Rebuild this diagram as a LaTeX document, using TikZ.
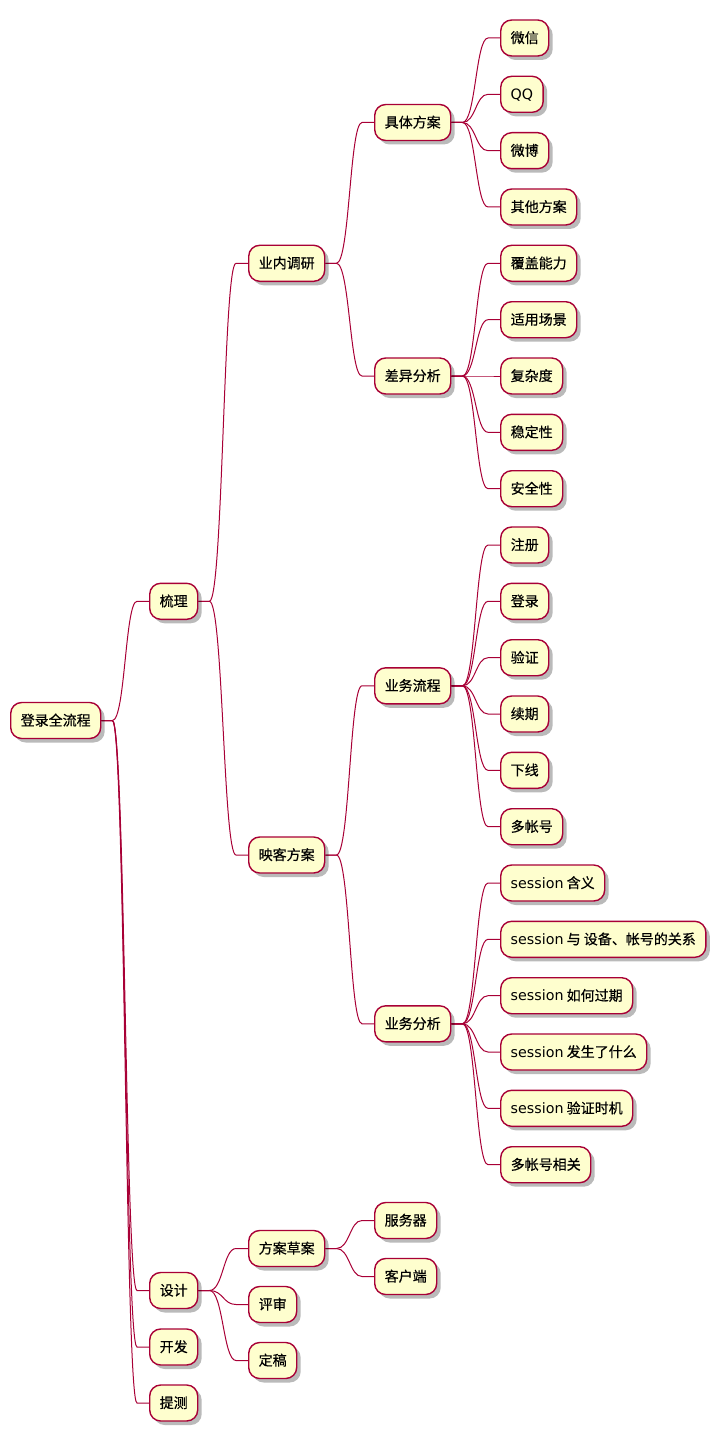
\documentclass[tikz,border=0pt]{standalone}
\usepackage{fontspec}
\setmainfont{Noto Sans CJK SC}[FakeBold=0.5]
\newfontfamily\lat{DejaVu Sans}[Scale=1.02]
\usetikzlibrary{shadows,calc,backgrounds}
\definecolor{nodefill}{HTML}{FEFECE}
\definecolor{plred}{HTML}{A80036}
\tikzset{
  mm/.style={draw=plred, fill=nodefill, line width=1.4pt, rounded corners=11pt,
    minimum height=36pt, inner xsep=10pt, inner ysep=0pt, text height=12pt, text depth=2pt,
    anchor=west, font=\fontsize{14}{16}\selectfont,
    drop shadow={shadow xshift=4pt, shadow yshift=-4pt, fill=black, opacity=0.27}},
  conn/.style={draw=plred, line width=1pt},
}
\newcommand\mmlink[2]{%
  \draw[conn] let \p1=(#1.east), \p2=(#2.west), \p3=($(\p1)!0.5!(\p2)$) in
    (\p1) -- ($(\p1)+(11pt,0)$) .. controls (\x3,\y1) and (\x3,\y2) .. ($(\p2)-(12pt,0)$) -- (\p2);}
\begin{document}
\begin{tikzpicture}[x=1pt,y=-1pt]
\useasboundingbox (0,0) rectangle (718,1431);
% level 0
\node[mm] (root) at (10,720.5) {登录全流程};
% level 1
\node[mm] (sl) at (149,601.3) {梳理};
\node[mm] (sj) at (149,1290.5) {设计};
\node[mm] (kf) at (149,1347) {开发};
\node[mm] (tc) at (149,1403) {提测};
% level 2
\node[mm] (ynty) at (248,263.3) {业内调研};
\node[mm] (ykfa) at (248,855) {映客方案};
\node[mm] (facc) at (248,1248.5) {方案草案};
\node[mm] (ps) at (248,1304.5) {评审};
\node[mm] (dg) at (248,1360.5) {定稿};
% level 3
\node[mm] (jtfa) at (374,122.5) {具体方案};
\node[mm] (cyfx) at (374,376) {差异分析};
\node[mm] (ywlc) at (374,685.8) {业务流程};
\node[mm] (ywfx) at (374,1023.8) {业务分析};
\node[mm] (fwq) at (374,1220.5) {服务器};
\node[mm] (khd) at (374,1276.5) {客户端};
% level 4
\node[mm] (wx) at (500,38) {微信};
\node[mm] (qq) at (500,94.3) {\lat QQ};
\node[mm] (wb) at (500,150.7) {微博};
\node[mm] (qtfa) at (500,207) {其他方案};
\node[mm] (fgnl) at (500,263.3) {覆盖能力};
\node[mm] (sycj) at (500,319.7) {适用场景};
\node[mm] (fzd) at (500,376) {复杂度};
\node[mm] (wdx) at (500,432.3) {稳定性};
\node[mm] (aqx) at (500,488.7) {安全性};
\node[mm] (zc) at (500,545) {注册};
\node[mm] (dl) at (500,601.3) {登录};
\node[mm] (yz) at (500,657.7) {验证};
\node[mm] (xq) at (500,714) {续期};
\node[mm] (xx) at (500,770.3) {下线};
\node[mm] (dzh) at (500,826.7) {多帐号};
\node[mm] (s1) at (500,883) {{\lat session} 含义};
\node[mm] (s2) at (500,939.3) {{\lat session} 与 设备、帐号的关系};
\node[mm] (s3) at (500,995.7) {{\lat session} 如何过期};
\node[mm] (s4) at (500,1052) {{\lat session} 发生了什么};
\node[mm] (s5) at (500,1108.3) {{\lat session} 验证时机};
\node[mm] (dzhxg) at (500,1164.7) {多帐号相关};
\begin{scope}[on background layer]
\mmlink{root}{sl}\mmlink{root}{sj}\mmlink{root}{kf}\mmlink{root}{tc}
\mmlink{sl}{ynty}\mmlink{sl}{ykfa}
\mmlink{sj}{facc}\mmlink{sj}{ps}\mmlink{sj}{dg}
\mmlink{ynty}{jtfa}\mmlink{ynty}{cyfx}
\mmlink{ykfa}{ywlc}\mmlink{ykfa}{ywfx}
\mmlink{facc}{fwq}\mmlink{facc}{khd}
\mmlink{jtfa}{wx}\mmlink{jtfa}{qq}\mmlink{jtfa}{wb}\mmlink{jtfa}{qtfa}
\mmlink{cyfx}{fgnl}\mmlink{cyfx}{sycj}\mmlink{cyfx}{fzd}\mmlink{cyfx}{wdx}\mmlink{cyfx}{aqx}
\mmlink{ywlc}{zc}\mmlink{ywlc}{dl}\mmlink{ywlc}{yz}\mmlink{ywlc}{xq}\mmlink{ywlc}{xx}\mmlink{ywlc}{dzh}
\mmlink{ywfx}{s1}\mmlink{ywfx}{s2}\mmlink{ywfx}{s3}\mmlink{ywfx}{s4}\mmlink{ywfx}{s5}\mmlink{ywfx}{dzhxg}
\end{scope}
\end{tikzpicture}
\end{document}
